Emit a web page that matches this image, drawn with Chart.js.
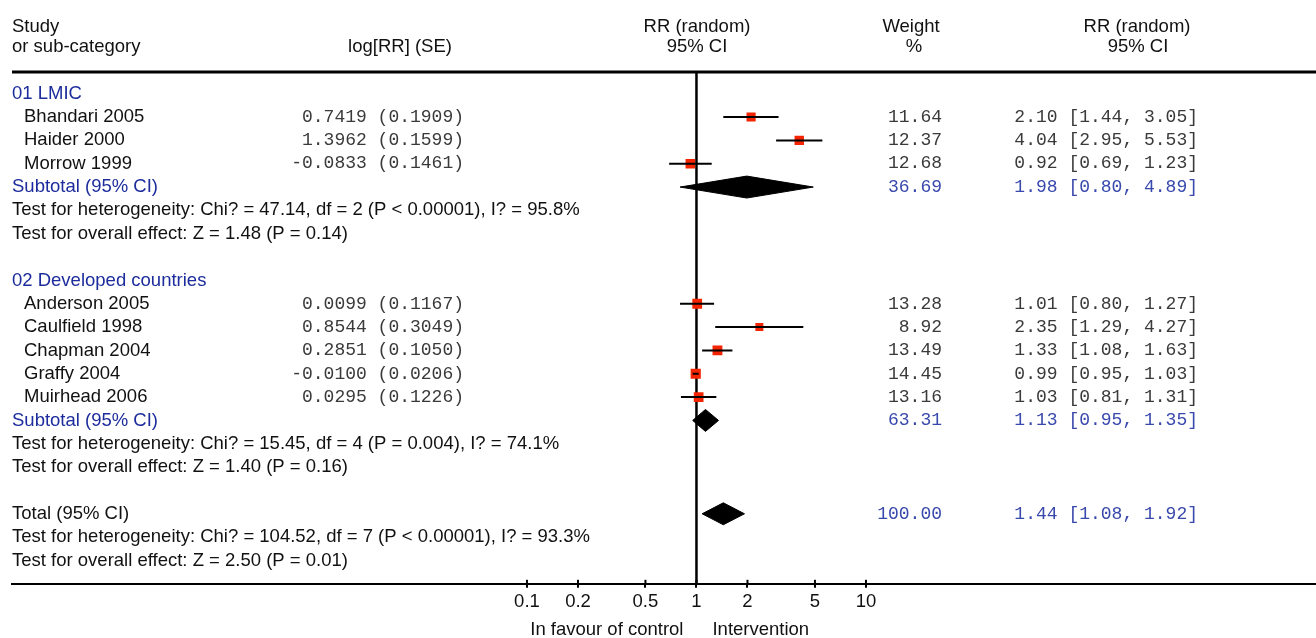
<!DOCTYPE html>
<html>
<head>
<meta charset="utf-8">
<script src="https://cdn.jsdelivr.net/npm/chart.js@4.4.1/dist/chart.umd.min.js"></script>
<style>
  html, body { margin: 0; padding: 0; background: #fff; }
  #wrap { width: 1316px; height: 638px; position: relative; }
</style>
</head>
<body>
<div id="wrap"><canvas id="forest"></canvas></div>
<script>
// study level data
const studyNames = ['Bhandari 2005', 'Haider 2000', 'Morrow 1999', 'Anderson 2005',
    'Caulfield 1998', 'Chapman 2004', 'Graffy 2004', 'Muirhead 2006'];
const studyRows = [1, 2, 3, 9, 10, 11, 12, 13];
const logRR = ['0.7419', '1.3962', '-0.0833', '0.0099', '0.8544', '0.2851', '-0.0100', '0.0295'];
const logSE = ['0.1909', '0.1599', '0.1461', '0.1167', '0.3049', '0.1050', '0.0206', '0.1226'];
const rr = [2.10, 4.04, 0.92, 1.01, 2.35, 1.33, 0.99, 1.03];
const ciLow = [1.44, 2.95, 0.69, 0.80, 1.29, 1.08, 0.95, 0.81];
const ciHigh = [3.05, 5.53, 1.23, 1.27, 4.27, 1.63, 1.03, 1.31];
const weights = [11.64, 12.37, 12.68, 13.28, 8.92, 13.49, 14.45, 13.16];

// pooled estimates
const pooledLabels = ['Subtotal (95% CI)', 'Subtotal (95% CI)', 'Total (95% CI)'];
const pooledRows = [4, 14, 18];
const pooledRR = [1.98, 1.13, 1.44];
const pooledLow = [0.80, 0.95, 1.08];
const pooledHigh = [4.89, 1.35, 1.92];
const pooledWeight = [36.69, 63.31, 100.00];

const groupLabels = ['01 LMIC', '02 Developed countries'];
const groupRows = [0, 8];

const testRows = [5, 6, 15, 16, 19, 20];
const testTexts = [
    'Test for heterogeneity: Chi? = 47.14, df = 2 (P < 0.00001), I? = 95.8%',
    'Test for overall effect: Z = 1.48 (P = 0.14)',
    'Test for heterogeneity: Chi? = 15.45, df = 4 (P = 0.004), I? = 74.1%',
    'Test for overall effect: Z = 1.40 (P = 0.16)',
    'Test for heterogeneity: Chi? = 104.52, df = 7 (P < 0.00001), I? = 93.3%',
    'Test for overall effect: Z = 2.50 (P = 0.01)'
];

const tickValues = [0.1, 0.2, 0.5, 1, 2, 5, 10];

const SANS = '"Liberation Sans", Arial, sans-serif';
const MONO = '"Liberation Mono", "Courier New", monospace';
const BLUE = '#1c2c9c';
const BLUE_MONO = '#3848ac';

const Y_TOP = -0.93, Y_BOTTOM = 21;
const X_MIN = 0.0000916, X_MAX = 4519;

// CI whiskers, one little line each
const ciDatasets = studyNames.map((name, i) => ({
    type: 'line',
    label: name,
    data: [{ x: ciLow[i], y: studyRows[i] }, { x: ciHigh[i], y: studyRows[i] }],
    borderColor: '#000',
    borderWidth: 2,
    pointRadius: 0,
    order: 0
}));

const squares = {
    type: 'scatter',
    label: 'RR',
    data: rr.map((v, i) => ({ x: v, y: studyRows[i] })),
    pointStyle: 'rect',
    pointRadius: weights.map(w => 7.2 * Math.sqrt(w / 14.45)),
    backgroundColor: '#f42400',
    borderWidth: 0,
    order: 1
};

const diamonds = pooledRR.map((v, i) => {
    const r = pooledRows[i], h = 0.47;
    return {
        type: 'line',
        label: pooledLabels[i],
        data: [{ x: pooledLow[i], y: r }, { x: v, y: r - h }, { x: pooledHigh[i], y: r },
               { x: v, y: r + h }, { x: pooledLow[i], y: r }],
        borderColor: '#000',
        backgroundColor: '#000',
        borderWidth: 1,
        pointRadius: 0,
        fill: 'shape',
        order: 2
    };
});

const nullLine = {
    type: 'line',
    label: 'no effect',
    data: [{ x: 1, y: Y_TOP }, { x: 1, y: Y_BOTTOM }],
    borderColor: '#000',
    borderWidth: 2.5,
    pointRadius: 0,
    order: 3
};

const textPlugin = {
    id: 'forestText',
    afterDraw(chart) {
        const { ctx, chartArea } = chart;
        const xs = chart.scales.x, ys = chart.scales.y;
        const put = (txt, x, y, align, font, color) => {
            ctx.font = font;
            ctx.fillStyle = color;
            ctx.textAlign = align;
            ctx.textBaseline = 'middle';
            ctx.fillText(txt, x, y);
        };
        const row = r => ys.getPixelForValue(r);
        const sans = '18.5px ' + SANS, mono = '18px ' + MONO;
        ctx.save();

        // header
        put('Study', 12, row(-2.88), 'left', sans, '#111');
        put('or sub-category', 12, row(-2.0), 'left', sans, '#111');
        put('log[RR] (SE)', 400, row(-2.0), 'center', sans, '#111');
        put('RR (random)', 697, row(-2.88), 'center', sans, '#111');
        put('95% CI', 697, row(-2.0), 'center', sans, '#111');
        put('Weight', 911, row(-2.88), 'center', sans, '#111');
        put('%', 914, row(-2.0), 'center', sans, '#111');
        put('RR (random)', 1137, row(-2.88), 'center', sans, '#111');
        put('95% CI', 1138, row(-2.0), 'center', sans, '#111');

        ctx.strokeStyle = '#000';
        ctx.lineWidth = 3;
        ctx.beginPath();
        ctx.moveTo(chartArea.left, chartArea.top);
        ctx.lineTo(chartArea.right, chartArea.top);
        ctx.stroke();

        groupLabels.forEach((g, i) => put(g, 12, row(groupRows[i]), 'left', sans, BLUE));

        studyNames.forEach((n, i) => {
            const y = row(studyRows[i]);
            put(n, 24, y, 'left', sans, '#111');
            put(logRR[i] + ' (' + logSE[i] + ')', 464, y, 'right', mono, '#3a3a3a');
            put(weights[i].toFixed(2), 942, y, 'right', mono, '#3a3a3a');
            put(rr[i].toFixed(2) + ' [' + ciLow[i].toFixed(2) + ', ' + ciHigh[i].toFixed(2) + ']',
                1198, y, 'right', mono, '#3a3a3a');
        });

        pooledLabels.forEach((l, i) => {
            const y = row(pooledRows[i]);
            put(l, 12, y, 'left', sans, i < 2 ? BLUE : '#111');
            put(pooledWeight[i].toFixed(2), 942, y, 'right', mono, BLUE_MONO);
            put(pooledRR[i].toFixed(2) + ' [' + pooledLow[i].toFixed(2) + ', ' + pooledHigh[i].toFixed(2) + ']',
                1198, y, 'right', mono, BLUE_MONO);
        });

        testTexts.forEach((t, i) => put(t, 12, row(testRows[i]), 'left', sans, '#111'));

        // ticks poke up above the axis line too
        ctx.lineWidth = 2;
        tickValues.forEach(v => {
            const x = xs.getPixelForValue(v);
            ctx.beginPath();
            ctx.moveTo(x, chartArea.bottom);
            ctx.lineTo(x, chartArea.bottom - 4);
            ctx.stroke();
        });

        const x1 = xs.getPixelForValue(1);
        put('In favour of control', x1 - 13, chartArea.bottom + 46, 'right', sans, '#111');
        put('Intervention', x1 + 16, chartArea.bottom + 46, 'left', sans, '#111');
        ctx.restore();
    }
};

new Chart(document.getElementById('forest'), {
    data: { datasets: [...ciDatasets, squares, ...diamonds, nullLine] },
    options: {
        responsive: true,
        maintainAspectRatio: false,
        animation: false,
        layout: { autoPadding: false, padding: { top: 72, left: 12, right: 0, bottom: 22 } },
        plugins: { legend: { display: false }, tooltip: { enabled: false } },
        scales: {
            x: {
                type: 'logarithmic',
                min: X_MIN,
                max: X_MAX,
                afterBuildTicks: scale => { scale.ticks = tickValues.map(v => ({ value: v })); },
                ticks: {
                    autoSkip: false,
                    maxRotation: 0,
                    padding: 3,
                    color: '#111',
                    font: { family: SANS, size: 18.5 },
                    callback: v => String(v)
                },
                grid: { drawOnChartArea: false, drawTicks: true, tickLength: 4, color: '#000', lineWidth: 2 },
                border: { display: true, color: '#000', width: 2 }
            },
            y: {
                type: 'linear',
                reverse: true,
                min: Y_TOP,
                max: Y_BOTTOM,
                display: false
            }
        }
    },
    plugins: [textPlugin]
});
</script>
</body>
</html>
